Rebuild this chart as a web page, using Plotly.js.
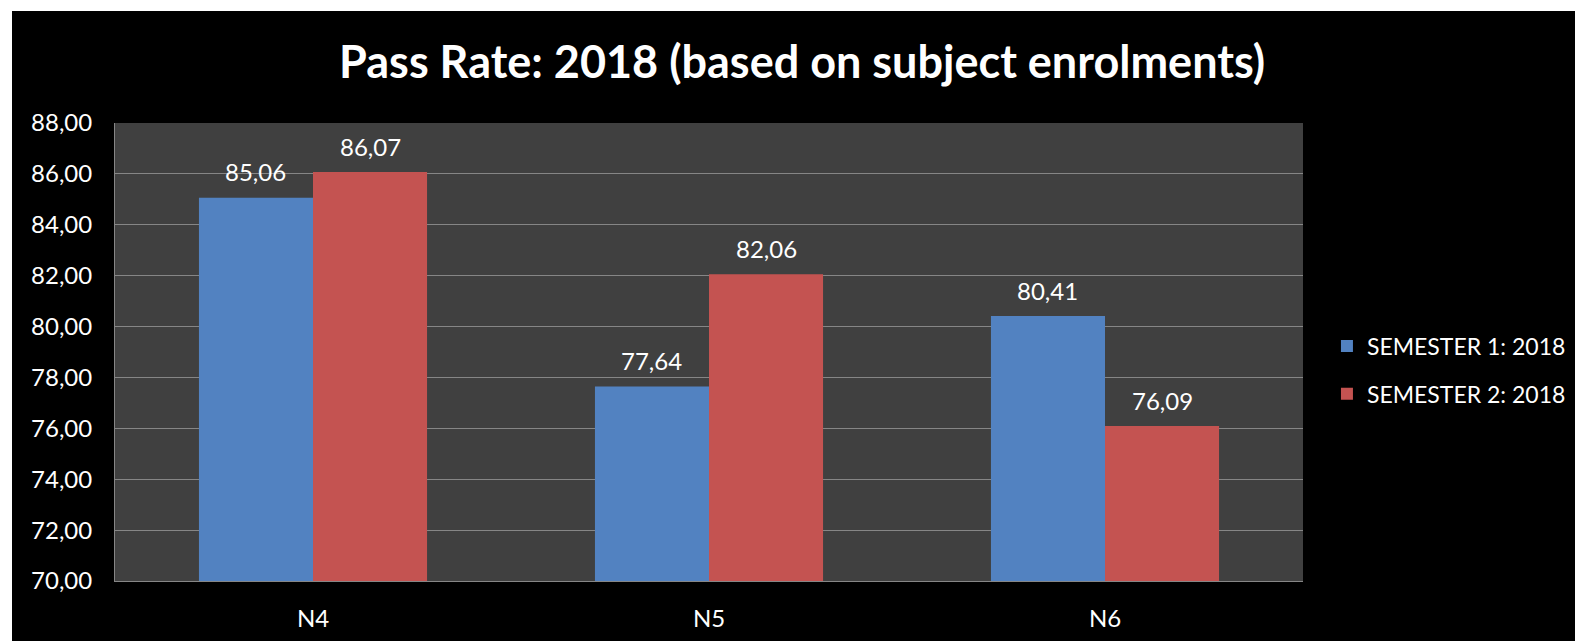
<!DOCTYPE html>
<html>
<head>
<meta charset="utf-8">
<script src="https://cdn.plot.ly/plotly-3.0.1.min.js"></script>
<style>
html,body{margin:0;padding:0;background:#ffffff;width:1575px;height:641px;overflow:hidden;}
#chart{position:absolute;left:12px;top:11px;width:1563px;height:630px;}
</style>
</head>
<body>
<div id="chart"></div>
<script>
const categories = ["N4", "N5", "N6"];
const semester1 = [85.06, 77.64, 80.41];
const semester2 = [86.07, 82.06, 76.09];
const seriesNames = ["SEMESTER 1: 2018", "SEMESTER 2: 2018"];
const yTicks = [70, 72, 74, 76, 78, 80, 82, 84, 86, 88];

const FONT = "Lato, 'Open Sans', 'Noto Sans', sans-serif";
const colors = ["#5282c1", "#c45351"];
const W = 1563, H = 630;
const margin = {l: 103, r: 272, t: 112, b: 60, autoexpand: false};
const bargap = 0.424;

const allSeries = [semester1, semester2];
const traces = allSeries.map((vals, i) => ({
  type: "bar", name: seriesNames[i], x: categories, y: vals,
  legendgroup: "g" + i,
  marker: {color: colors[i], line: {width: 0}},
  hoverinfo: "skip"
}));

// data labels placed above each bar, derived from the data arrays
const plotW = W - margin.l - margin.r;
const catW = plotW / categories.length;
const barW = catW * (1 - bargap) / allSeries.length;
const fmt = v => v.toFixed(2).replace(".", ",");
const annotations = [];
allSeries.forEach((vals, i) => {
  vals.forEach((v, j) => {
    annotations.push({
      x: categories[j], y: v, xref: "x", yref: "y",
      xshift: (i - (allSeries.length - 1) / 2) * barW,
      yshift: 26, yanchor: "middle", xanchor: "center",
      text: fmt(v), showarrow: false,
      font: {family: FONT, size: 24, color: "#ffffff"}
    });
  });
});

const layout = {
  width: W, height: H,
  paper_bgcolor: "#000000",
  plot_bgcolor: "#404040",
  separators: ",.",
  margin: margin,
  barmode: "group",
  bargap: bargap,
  bargroupgap: 0,
  font: {family: FONT, color: "#ffffff", size: 20},
  title: {
    text: "<b>Pass Rate: 2018 (based on subject enrolments)</b>",
    font: {family: FONT, size: 45, color: "#ffffff"},
    x: 0.5055, xanchor: "center", y: 0.919, yanchor: "middle"
  },
  xaxis: {
    type: "category",
    showline: true, linecolor: "#868686", linewidth: 1,
    ticks: "outside", ticklen: 16, tickcolor: "rgba(0,0,0,0)",
    tickfont: {family: FONT, size: 24, color: "#ffffff"},
    showgrid: false, zeroline: false, fixedrange: true
  },
  yaxis: {
    range: [70, 88],
    tickvals: yTicks,
    tickformat: ".2f",
    showline: true, linecolor: "#868686", linewidth: 1,
    showgrid: true, gridcolor: "#868686", gridwidth: 1,
    ticks: "outside", ticklen: 17, tickcolor: "rgba(0,0,0,0)",
    tickfont: {family: FONT, size: 24, color: "#ffffff"},
    zeroline: false, fixedrange: true
  },
  legend: {
    xref: "container", yref: "container",
    x: 0.8413, xanchor: "left", y: 0.4302, yanchor: "middle",
    font: {family: FONT, size: 23, color: "#ffffff"},
    bgcolor: "rgba(0,0,0,0)",
    itemwidth: 30,
    tracegroupgap: 15
  },
  annotations: annotations,
  showlegend: true
};

Plotly.newPlot("chart", traces, layout, {displayModeBar: false, staticPlot: true});
</script>
</body>
</html>
